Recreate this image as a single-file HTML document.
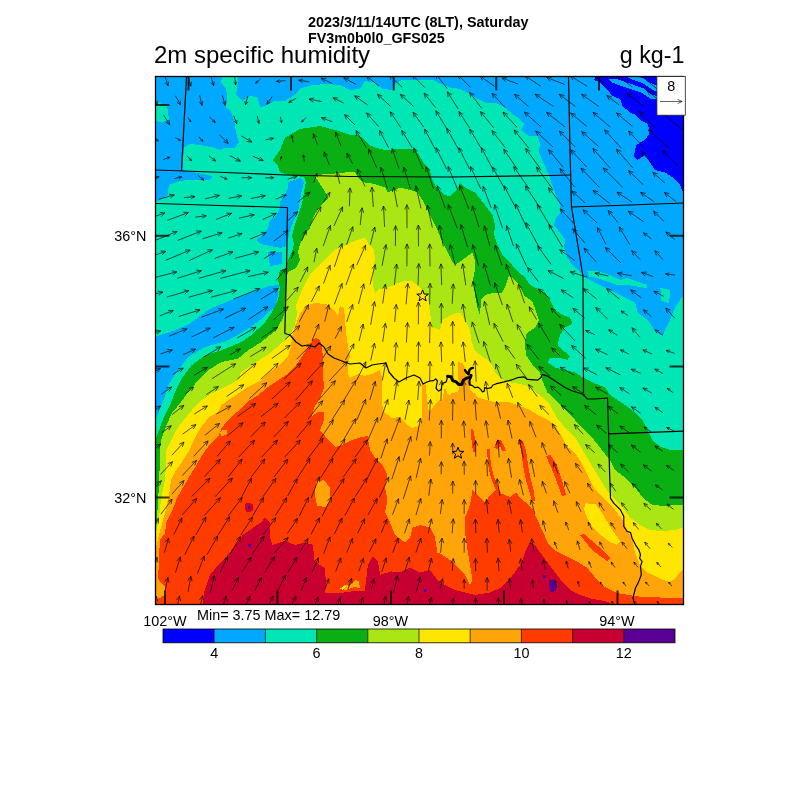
<!DOCTYPE html>
<html><head><meta charset="utf-8"><title>2m specific humidity</title>
<style>
html,body{margin:0;padding:0;background:#fff;}
body{width:800px;height:800px;position:relative;overflow:hidden;font-family:"Liberation Sans",sans-serif;color:#000;}
</style></head><body>
<svg width="800" height="800" viewBox="0 0 800 800" style="position:absolute;left:0;top:0">
<defs><clipPath id="mc"><rect x="155.5" y="76.5" width="528.0" height="528.0"/></clipPath></defs>
<g clip-path="url(#mc)" shape-rendering="crispEdges">
<rect x="155.5" y="76.5" width="528.0" height="528.0" fill="#00e6b4"/>
<path d="M155.0,76.0L222.5,76.0L221.0,82.5L226.0,89.0L227.5,97.5L226.0,107.5L231.0,111.0L234.0,120.0L236.0,132.5L239.0,142.5L235.0,147.5L225.0,147.5L220.0,150.0L212.5,147.5L200.0,145.0L190.0,144.0L184.0,147.5L182.5,170.0L212.5,176.0L210.0,180.0L187.5,180.0L180.0,181.0L169.0,185.0L167.5,195.0L160.0,200.0L155.0,202.5Z" fill="#00a8ff" />
<path d="M237.5,76.0L237.5,85.0L236.0,95.0L242.5,101.0L250.0,96.0L257.5,97.5L260.0,107.5L267.5,105.0L275.0,101.0L285.0,101.0L295.0,95.0L300.0,89.0L310.0,85.5L325.0,84.0L340.0,85.0L350.0,90.0L360.0,89.0L365.0,81.0L375.0,82.5L382.5,89.0L392.5,90.0L396.0,82.5L402.5,80.0L420.0,80.0L432.5,80.0L450.0,87.5L460.0,89.0L467.5,92.5L475.0,97.5L485.0,102.5L495.0,102.5L505.0,107.5L512.5,114.0L520.0,119.0L524.0,124.0L521.0,130.0L528.0,135.5L537.5,136.5L540.5,144.0L538.5,151.0L543.0,162.0L549.0,175.0L554.0,190.0L560.0,205.0L561.0,212.5L556.0,217.5L554.0,225.0L560.0,232.5L565.0,240.0L564.0,247.5L567.5,257.5L572.0,265.0L580.0,271.0L587.5,279.0L605.0,287.5L620.0,295.0L635.0,302.5L637.5,312.5L647.5,320.0L655.0,331.0L662.5,336.0L665.0,330.0L670.0,320.0L675.0,307.5L680.0,300.0L684.0,295.0L684.0,76.0Z" fill="#00a8ff" />
<path d="M288.0,182.0L300.0,178.0L304.0,182.0L302.0,190.0L300.0,200.0L298.0,212.0L294.0,220.0L290.0,230.0L288.0,240.0L286.0,246.0L280.0,248.0L270.0,246.0L260.0,244.0L256.0,240.0L262.0,236.0L268.0,228.0L270.0,220.0L276.0,216.0L280.0,208.0L280.0,202.0L284.0,196.0L288.0,188.0Z" fill="#00a8ff" />
<path d="M268.0,252.0L282.0,252.0L282.0,264.0L270.0,266.0Z" fill="#00a8ff" />
<path d="M279.0,285.0L270.0,286.0L260.0,289.0L245.0,295.0L225.0,302.5L210.0,309.0L200.0,316.0L187.5,325.0L172.5,331.0L160.0,335.0L155.0,337.5L155.0,420.0L158.3,413.5L163.3,400.2L168.3,385.2L176.6,372.0L188.3,357.0L204.9,347.0L226.5,341.0L237.5,335.0L250.0,327.5L260.0,320.0L267.5,312.5L275.0,307.5L277.5,297.5Z" fill="#00a8ff" />
<path d="M155.0,102.0L167.0,105.0L169.0,120.0L160.0,122.5L155.0,120.0Z" fill="#00e6b4" />
<path d="M587.2,271.5L597.2,270.7L608.9,274.8L620.5,279.8L627.2,278.1L637.1,281.5L647.1,284.8L647.1,288.1L637.1,286.5L627.2,284.8L617.2,284.8L607.2,281.5L597.2,278.1L588.9,276.5Z" fill="#00e6b4" />
<path d="M660.4,288.0L670.4,290.0L669.0,303.0L661.0,301.0Z" fill="#00e6b4" />
<path d="M594.0,80.0L600.0,82.5L607.5,90.0L612.5,96.0L620.0,99.0L622.5,106.0L630.0,112.5L636.0,115.0L640.0,120.0L647.5,124.0L650.0,132.5L645.0,140.0L636.0,145.0L634.0,156.0L637.5,160.0L645.0,155.0L650.0,162.5L655.0,170.0L665.0,172.5L672.5,177.5L680.0,185.0L684.0,195.0L684.0,76.0L596.0,76.0Z" fill="#0000ff" />
<path d="M626.0,76.5L634.0,76.5L640.0,77.3L644.5,78.8L649.8,82.5L656.5,85.5L656.5,91.5L652.8,90.0L647.5,86.5L643.0,83.5L638.0,81.5L632.0,79.5Z" fill="#00a8ff" />
<path d="M608.0,79.0L618.0,79.5L626.0,82.0L634.0,85.0L640.0,87.2L643.8,88.5L648.2,92.2L652.8,94.9L656.5,96.0L656.5,99.5L650.5,98.5L646.0,95.8L642.2,93.0L636.0,91.0L628.0,88.0L620.0,85.5L612.0,82.5Z" fill="#00a8ff" />
<path d="M155.0,441.8L158.3,431.8L163.3,418.5L170.0,405.2L175.0,391.9L181.6,378.6L191.6,365.3L204.9,355.3L221.5,350.3L241.5,342.0L250.0,336.0L258.0,329.0L266.0,321.0L272.0,312.0L278.0,300.0L280.0,288.0L278.0,280.0L280.0,270.0L286.0,268.0L288.0,260.0L292.0,252.0L294.0,244.0L292.0,236.0L294.0,228.0L298.0,216.0L302.0,204.0L304.0,192.0L306.0,182.0L304.0,177.0L288.0,175.0L280.0,172.0L278.0,166.0L273.0,160.0L280.0,150.0L285.0,137.5L300.0,129.0L320.0,126.0L335.0,130.0L350.0,135.0L357.5,135.0L364.0,139.0L369.0,145.0L375.0,147.5L385.0,150.0L400.0,149.0L415.0,149.0L419.0,155.0L425.0,165.0L430.0,169.0L431.0,177.5L435.0,185.0L444.0,195.0L450.0,196.0L454.0,192.5L457.5,189.0L460.0,182.5L465.0,187.5L475.0,192.5L485.0,205.0L492.5,215.0L495.0,225.0L494.0,235.0L497.5,245.0L502.5,255.0L510.0,262.5L516.0,270.0L525.0,277.5L530.0,285.0L537.5,289.0L545.0,292.5L550.0,300.0L555.0,310.0L562.5,315.0L570.0,317.5L572.5,324.0L565.0,327.5L560.0,335.0L557.5,345.0L562.5,350.0L570.0,356.0L567.5,360.0L557.5,357.5L550.0,357.5L547.5,362.5L555.0,367.5L565.0,370.0L575.0,372.5L582.5,377.5L592.5,382.5L605.0,387.5L610.0,395.0L617.5,400.0L625.0,405.0L635.0,412.5L642.5,420.0L648.0,431.0L653.0,441.0L661.0,447.0L671.0,450.0L684.0,450.0L685.0,606.0L154.0,606.0Z" fill="#0aaf14" />
<path d="M155.0,528.0L157.0,520.0L157.5,510.0L158.2,498.0L159.4,480.0L159.8,450.0L161.7,438.4L166.6,425.1L171.6,413.5L180.0,403.5L188.3,391.9L198.2,380.2L208.2,370.3L221.5,362.0L238.1,358.6L248.1,350.3L261.4,342.0L270.0,335.0L278.0,327.0L283.0,318.0L285.5,310.0L286.0,295.0L286.0,280.0L288.0,272.0L296.0,268.0L300.0,260.0L298.0,252.0L300.0,244.0L304.0,236.0L310.0,228.0L314.0,216.0L320.0,206.0L328.0,198.0L324.0,190.0L320.0,184.0L314.0,175.0L330.0,174.0L350.0,172.0L355.0,172.5L360.0,180.0L365.0,182.5L375.0,184.0L385.0,187.5L387.5,192.5L400.0,187.5L410.0,190.0L417.5,192.5L422.5,200.0L427.5,210.0L432.5,220.0L437.5,230.0L442.5,242.5L447.5,252.5L452.5,262.5L455.0,265.0L462.5,260.0L472.5,252.5L475.0,260.0L475.0,270.0L473.0,280.0L475.0,295.0L477.5,307.5L480.0,316.0L481.0,300.0L485.0,295.0L492.5,293.0L502.0,293.5L506.0,285.0L509.0,275.5L514.0,279.0L518.5,284.0L524.0,295.5L532.0,301.0L536.0,311.0L539.0,320.0L535.0,327.5L526.0,334.0L525.0,344.0L526.0,355.0L532.5,365.0L540.0,373.0L543.0,382.0L547.5,392.5L555.0,400.0L565.0,410.0L575.0,420.0L583.5,429.0L592.5,438.0L601.0,449.0L610.0,460.0L615.0,470.0L625.0,477.5L635.0,487.5L642.5,497.5L652.5,505.0L665.0,506.0L675.0,505.0L684.0,505.0L685.0,606.0L154.0,606.0Z" fill="#aae614" />
<path d="M155.0,536.0L158.5,522.0L159.8,510.0L161.2,498.0L165.0,480.0L166.0,465.0L166.5,450.0L169.0,445.0L173.3,436.8L178.3,426.8L184.9,418.5L193.2,408.5L201.5,400.2L211.5,393.5L221.5,388.6L228.2,385.2L238.1,380.2L241.5,372.0L251.4,365.3L261.4,358.6L271.4,352.0L283.0,342.0L290.0,335.0L295.0,325.0L297.0,314.0L296.0,306.0L298.0,300.0L302.0,290.0L306.0,282.0L312.0,272.0L320.0,264.0L328.0,256.0L334.0,250.0L344.0,246.0L350.0,243.0L357.5,240.0L365.0,237.5L369.0,245.0L374.0,250.0L375.0,260.0L373.0,270.0L373.0,285.0L375.0,293.0L380.0,289.0L392.0,286.0L404.0,280.5L412.0,281.0L420.0,287.0L428.0,297.0L430.0,312.5L432.5,327.5L440.0,330.0L442.5,320.0L452.5,314.0L460.0,312.5L465.0,320.0L470.0,330.0L471.7,342.0L475.0,351.0L481.0,355.5L488.0,360.5L492.5,366.0L496.0,374.0L502.0,380.0L510.0,382.5L520.0,384.0L528.0,386.0L537.5,393.5L544.0,398.5L550.0,405.0L557.5,418.5L565.0,427.5L575.0,437.5L582.5,450.0L590.0,462.5L597.5,475.0L605.0,487.5L612.5,497.5L622.5,507.5L630.0,517.5L640.0,525.0L650.0,530.0L662.5,531.0L675.0,530.0L684.0,527.5L685.0,606.0L154.0,606.0Z" fill="#ffe600" />
<path d="M155.0,550.0L157.5,541.0L160.0,531.0L165.8,510.0L168.8,498.0L171.0,480.0L175.0,472.0L180.0,465.0L185.0,457.0L189.8,450.0L192.0,444.0L196.3,435.0L203.2,424.0L209.9,416.8L218.2,411.8L221.5,405.2L228.2,400.2L238.1,393.5L248.1,386.9L261.4,380.2L271.4,370.3L281.4,363.6L288.0,357.0L291.0,346.0L293.0,332.0L296.0,324.0L300.0,314.0L306.0,306.0L314.0,303.0L326.0,304.0L334.0,310.0L338.0,316.0L340.0,306.0L344.0,308.0L345.0,320.0L346.0,332.0L348.0,346.0L350.0,356.0L348.0,364.0L348.0,374.0L350.0,378.0L358.0,374.0L364.0,376.0L372.0,374.0L380.0,370.0L382.0,378.0L382.0,392.0L382.0,404.0L384.0,412.0L392.0,418.0L400.0,417.0L406.0,424.0L412.0,428.0L419.0,426.0L421.5,418.0L421.5,392.0L421.5,382.0L425.5,385.0L427.0,398.0L428.5,410.0L430.0,411.2L435.2,404.2L438.7,400.7L443.1,399.0L444.0,388.5L445.7,388.5L447.5,393.7L450.1,395.5L451.9,392.9L458.0,392.0L458.9,388.5L458.5,380.0L458.0,370.0L458.0,362.3L462.4,362.7L464.5,367.0L466.0,375.0L468.5,381.0L469.0,385.9L471.1,391.1L475.5,393.7L477.2,397.2L482.5,399.0L489.5,400.7L494.7,402.5L500.0,401.6L510.0,402.5L520.0,406.0L530.0,410.0L540.0,416.0L548.0,420.0L554.0,424.5L560.0,433.5L566.0,445.5L575.0,453.0L581.0,462.0L585.5,471.0L590.0,480.0L595.0,490.0L605.0,500.0L615.0,510.0L622.5,520.0L627.5,530.0L632.5,540.0L635.0,552.5L640.0,565.0L646.0,572.0L655.0,576.0L663.0,580.0L669.0,582.0L675.0,579.0L679.0,573.0L684.0,568.0L685.0,606.0L154.0,606.0Z" fill="#ffa50a" />
<path d="M585.6,503.3L595.6,504.1L602.2,513.2L608.9,524.9L615.5,534.8L620.5,541.5L617.2,544.8L608.9,541.5L600.5,534.8L592.2,526.5L587.3,518.2L583.9,509.9Z" fill="#ffe600" />
<path d="M154.0,606.0L156.0,599.0L160.5,597.5L165.8,594.5L165.0,587.0L159.0,581.0L157.5,575.0L159.0,567.5L159.0,552.5L160.5,539.0L165.0,533.0L166.5,522.5L172.5,510.0L177.0,498.0L181.5,490.0L187.5,480.0L192.0,472.0L196.5,465.0L201.0,457.0L205.5,450.0L211.5,443.0L218.2,436.8L221.5,428.4L226.5,421.8L233.1,415.1L241.5,408.5L249.8,400.2L258.1,395.2L268.1,386.9L278.0,380.2L288.0,373.6L297.0,364.0L305.0,352.0L312.5,340.0L316.0,338.0L320.0,340.0L322.0,346.0L323.0,360.0L323.0,374.0L324.0,388.0L320.0,398.0L314.0,408.0L312.0,416.0L318.0,412.0L324.0,412.0L324.0,420.0L320.0,430.0L325.0,436.0L330.0,442.0L335.0,447.0L342.5,445.0L350.0,441.0L360.0,437.5L367.5,436.0L370.0,450.0L375.0,457.5L382.5,465.0L387.5,475.0L385.0,487.5L387.5,500.0L385.0,512.5L390.0,522.5L395.0,535.0L405.0,542.5L410.0,537.5L412.5,527.5L420.0,525.0L430.0,527.5L435.0,537.5L437.5,552.5L442.5,555.0L450.0,560.0L457.5,567.5L465.0,575.0L470.0,585.0L472.5,580.0L470.0,565.0L467.5,550.0L465.0,532.5L465.0,517.5L470.0,505.0L472.5,490.0L480.0,497.5L485.0,502.5L490.0,495.0L495.0,490.0L500.0,493.0L510.0,497.0L516.0,492.5L520.0,497.5L525.0,502.0L532.5,509.0L542.0,530.0L548.0,543.0L554.0,549.8L564.0,554.8L577.3,561.5L587.3,568.0L595.6,578.0L603.9,586.4L617.2,593.0L637.0,596.4L660.0,597.5L684.0,598.0L685.0,606.0L154.0,606.0Z" fill="#ff3c00" />
<path d="M316.0,482.0L324.0,480.0L330.0,488.0L330.0,500.0L326.0,507.0L317.0,506.0L315.0,495.0Z" fill="#ffa50a" />
<path d="M219.5,432.5L223.5,429.5L227.0,430.0L226.5,434.0L222.0,436.5Z" fill="#ffa50a" />
<path d="M487.0,449.0L489.5,449.0L491.0,465.0L494.0,477.0L498.5,487.0L501.5,495.0L498.5,495.0L495.0,488.0L491.0,478.0L488.0,465.0Z" fill="#ff3c00" />
<path d="M518.0,439.5L522.0,439.5L526.0,450.0L528.0,465.0L531.0,480.0L534.0,492.0L535.0,501.0L532.0,501.0L529.5,492.0L526.0,480.0L523.0,465.0L521.0,450.0Z" fill="#ff3c00" />
<path d="M546.0,456.0L550.5,455.0L557.0,465.0L562.0,480.0L566.0,495.0L562.0,496.0L556.5,481.0L551.0,467.0Z" fill="#ff3c00" />
<path d="M494.0,448.0L497.0,440.0L501.0,439.5L504.0,446.0L506.0,451.5L502.0,451.0L500.0,446.0L498.0,449.0Z" fill="#ff3c00" />
<path d="M470.5,429.0L473.0,429.0L475.5,440.0L476.0,451.5L473.0,451.5L471.5,440.0Z" fill="#ff3c00" />
<path d="M580.0,535.0L584.0,534.0L598.0,546.0L611.0,558.0L607.0,561.0L592.0,550.0Z" fill="#ff3c00" />
<path d="M203.2,606.0L204.0,593.0L210.0,575.0L216.0,567.5L225.0,558.5L231.0,551.0L237.0,543.5L243.0,534.5L252.0,528.5L261.0,522.5L265.0,517.5L270.0,522.5L270.0,537.5L272.5,545.0L285.0,541.0L295.0,545.0L305.0,542.5L312.9,544.8L314.6,561.5L324.6,568.1L326.2,583.1L324.6,593.0L337.9,593.4L357.8,590.5L364.5,591.4L366.1,581.4L367.8,564.8L372.8,556.5L377.8,561.5L380.3,574.8L391.1,571.4L400.0,572.5L410.0,567.5L420.0,572.5L430.0,570.0L437.5,580.0L445.0,585.0L455.0,590.0L465.0,592.5L475.0,595.0L490.0,592.5L500.0,588.0L509.0,580.0L515.0,572.0L522.0,562.0L526.0,550.0L530.0,542.5L535.0,545.0L540.0,552.5L547.5,562.5L555.0,572.5L562.5,582.5L570.0,590.0L580.0,595.0L592.5,599.0L605.0,601.0L617.5,606.0Z" fill="#c80032" />
<path d="M244.5,504.0L249.0,502.5L253.5,505.0L252.5,511.0L247.0,512.5L244.5,509.0Z" fill="#c80032" />
<path d="M340.0,589.0L345.0,584.5L349.0,586.0L355.0,580.0L359.0,581.0L360.0,588.0L354.0,587.0L347.0,590.0Z" fill="#ffa50a" />
<path d="M340.5,588.5L344.5,585.5L346.0,587.0L342.0,590.0Z" fill="#ffe600" />
<path d="M549.0,581.0L554.0,579.0L557.0,585.0L556.0,591.0L551.0,592.0L549.0,587.0Z" fill="#5a0096" />
<path d="M247.5,506.0L250.0,506.0L250.0,509.0L247.5,509.0Z" fill="#5a0096" />
<path d="M247.5,543.5L250.5,543.5L250.5,546.5L247.5,546.5Z" fill="#5a0096" />
<path d="M424.0,589.0L427.0,589.0L427.0,592.0L424.0,592.0Z" fill="#5a0096" />
<path d="M543.0,575.0L546.0,575.0L546.0,578.0L543.0,578.0Z" fill="#5a0096" />
</g>
<g clip-path="url(#mc)">
<path d="M186.5,76.5L184.0,124.0L181.5,171.0" fill="none" stroke="#000" stroke-width="1.2" stroke-linejoin="round" />
<path d="M155.5,170.0L225.0,172.5L286.0,175.0L350.0,176.5L450.0,177.0L550.0,175.5L570.0,175.0" fill="none" stroke="#000" stroke-width="1.2" stroke-linejoin="round" />
<path d="M568.5,76.5L570.0,150.0L571.5,207.0L577.0,240.0L583.0,276.5L583.3,333.0L583.5,393.0" fill="none" stroke="#000" stroke-width="1.2" stroke-linejoin="round" />
<path d="M571.5,207.0L630.0,205.0L683.5,203.0" fill="none" stroke="#000" stroke-width="1.2" stroke-linejoin="round" />
<path d="M155.5,203.5L220.0,205.5L287.5,207.5" fill="none" stroke="#000" stroke-width="1.2" stroke-linejoin="round" />
<path d="M287.5,207.5L286.5,270.0L284.8,333.5" fill="none" stroke="#000" stroke-width="1.2" stroke-linejoin="round" />
<path d="M284.8,333.5L290.0,335.0L296.0,342.0L302.0,346.0L308.0,345.0L315.0,347.0L319.0,343.0L324.0,347.0L328.0,354.0L334.0,358.0L342.0,361.0L350.0,364.0L360.0,363.0L366.0,368.0L372.0,365.0L378.0,364.0L386.0,363.0L389.0,372.0L394.0,378.0L399.0,382.0L406.0,378.0L414.0,375.0L420.0,378.0L423.0,384.0L427.0,382.0L430.0,381.0L433.5,380.6L435.7,378.9L437.4,381.0L436.6,385.0L436.1,388.5L438.7,391.1L441.4,389.4L441.8,385.0L443.1,383.2L446.2,381.9L447.5,377.1" fill="none" stroke="#000" stroke-width="1.2" stroke-linejoin="round" />
<path d="M469.8,384.6L472.9,385.9L474.6,387.6L478.1,387.2L480.7,389.4L482.5,392.0L484.2,391.1L484.7,387.6L487.7,388.5L491.2,387.6L493.0,385.0L496.5,383.7L500.0,382.8L504.1,381.9L510.8,380.2L517.4,377.7L524.1,376.9L527.4,379.4L537.4,380.2L540.7,377.7L542.4,374.4L547.4,376.1L552.0,379.0L557.5,382.5L565.0,387.5L572.5,391.0L582.5,394.0L587.5,399.0L595.0,399.0L607.5,398.0" fill="none" stroke="#000" stroke-width="1.2" stroke-linejoin="round" />
<path d="M607.5,398.0L608.5,430.0L609.5,470.0L610.5,498.3L613.9,503.3L620.5,509.9L623.8,516.6L623.8,526.5L627.2,531.5L630.5,532.4L632.1,538.2L635.5,544.8L638.8,549.8L640.5,554.8L639.6,558.1L642.1,561.5L640.5,566.4L641.3,574.8L638.8,581.4L635.5,588.0L633.8,594.7L633.0,598.0L634.6,604.5" fill="none" stroke="#000" stroke-width="1.2" stroke-linejoin="round" />
<path d="M608.8,433.8L683.5,431.2" fill="none" stroke="#000" stroke-width="1.2" stroke-linejoin="round" />
<path d="M447.5,376.2L451.0,376.7L452.7,380.6L456.2,381.9L458.9,384.6L461.5,384.6L463.2,380.2L466.7,378.0L470.2,377.6L471.1,375.4" fill="none" stroke="#000" stroke-width="3.0" stroke-linejoin="round" stroke-linecap="round"/>
<path d="M465.0,370.1L466.7,372.7L468.5,374.5L469.4,370.1L471.1,368.4L472.9,367.9" fill="none" stroke="#000" stroke-width="2.4" stroke-linejoin="round" stroke-linecap="round"/>
<path d="M470.2,377.6L469.4,381.5L469.8,384.6" fill="none" stroke="#000" stroke-width="2.2" stroke-linejoin="round" stroke-linecap="round"/>
<path d="M422.6,289.9L424.1,294.0L428.4,294.1L425.0,296.8L426.2,300.9L422.6,298.5L419.0,300.9L420.2,296.8L416.8,294.1L421.1,294.0Z" fill="none" stroke="#000" stroke-width="1"/>
<path d="M458.0,447.2L459.5,451.3L463.8,451.4L460.4,454.1L461.6,458.2L458.0,455.8L454.4,458.2L455.6,454.1L452.2,451.4L456.5,451.3Z" fill="none" stroke="#000" stroke-width="1"/>
<path d="M164.9,76.0L168.1,86.0M165.2,82.7L168.1,86.0L168.6,81.6M188.0,75.8L190.8,86.2M187.9,82.7L190.8,86.2L191.5,81.7M211.0,76.3L213.6,85.7M211.0,82.5L213.6,85.7L214.2,81.6M234.7,77.0L235.7,85.0M234.0,82.1L235.7,85.0L236.7,81.7M260.6,78.8L255.6,83.2M256.8,80.6L255.6,83.2L258.3,82.4M285.6,80.6L276.4,81.4M279.8,79.5L276.4,81.4L280.1,82.7M309.2,81.8L298.6,80.2M303.0,79.0L298.6,80.2L302.4,82.6M332.4,83.6L321.2,78.4M326.4,78.5L321.2,78.4L324.6,82.3M355.6,84.1L343.8,77.9M349.0,78.2L343.8,77.9L347.0,82.0M379.0,86.1L366.2,75.9M371.3,77.2L366.2,75.9L368.6,80.5M402.0,87.1L389.0,74.9M394.0,76.7L389.0,74.9L391.1,79.7M424.6,87.4L412.2,74.6M417.0,76.5L412.2,74.6L414.0,79.4M447.1,88.5L435.5,73.5M440.0,75.9L435.5,73.5L436.7,78.5M470.7,87.5L457.7,74.5M462.6,76.3L457.7,74.5L459.6,79.3M494.3,86.2L479.9,75.8M485.0,76.8L479.9,75.8L482.5,80.3M517.9,84.0L502.1,78.0M507.3,77.7L502.1,78.0L505.8,81.7M540.7,86.2L525.1,75.8M530.3,76.7L525.1,75.8L527.9,80.2M565.0,84.5L546.6,77.5M551.8,77.2L546.6,77.5L550.3,81.2M587.2,86.3L570.2,75.7M575.3,76.4L570.2,75.7L573.1,80.0M609.2,86.7L594.0,75.3M599.1,76.5L594.0,75.3L596.6,79.9M632.2,86.9L616.8,75.1M621.9,76.3L616.8,75.1L619.3,79.6M656.8,88.7L638.0,73.3M643.0,74.7L638.0,73.3L640.3,77.9M681.8,90.6L658.8,71.4M663.8,72.9L658.8,71.4L661.1,76.1M152.7,95.6L157.4,105.1M154.0,102.3L157.4,105.1L157.2,100.6M175.4,95.8L180.5,104.9M177.0,102.3L180.5,104.9L180.1,100.6M199.7,95.2L202.0,105.5M199.4,101.9L202.0,105.5L202.9,101.2M222.4,95.4L225.1,105.3M222.4,102.0L225.1,105.3L225.8,101.0M247.8,95.8L245.5,104.9M244.8,101.0L245.5,104.9L248.0,101.8M272.2,96.4L266.9,104.3M267.6,100.4L266.9,104.3L270.3,102.2M296.2,98.2L288.7,102.5M290.9,99.6L288.7,102.5L292.3,102.1M321.7,101.5L309.0,99.2M314.0,98.0L309.0,99.2L313.3,102.1M343.6,103.0L332.9,97.7M337.9,97.9L332.9,97.7L336.1,101.6M367.7,105.0L354.6,95.7M359.7,96.7L354.6,95.7L357.2,100.2M390.6,106.4L377.5,94.3M382.4,96.0L377.5,94.3L379.6,99.1M413.5,106.4L400.4,94.3M405.3,96.0L400.4,94.3L402.5,99.1M435.6,107.6L424.1,93.1M428.7,95.5L424.1,93.1L425.4,98.2M458.2,108.9L447.3,91.8M451.7,94.7L447.3,91.8L448.1,97.0M481.7,108.3L469.6,92.4M474.2,94.9L469.6,92.4L470.8,97.4M505.2,107.5L491.9,93.2M496.7,95.2L491.9,93.2L493.6,98.1M528.4,106.4L514.5,94.3M519.5,95.8L514.5,94.3L516.7,99.0M553.6,106.5L535.1,94.2M540.2,95.1L535.1,94.2L537.9,98.6M575.3,106.4L559.2,94.3M564.3,95.5L559.2,94.3L561.7,98.9M598.7,106.4L581.6,94.3M586.7,95.3L581.6,94.3L584.2,98.8M619.3,105.2L606.8,95.5M611.9,96.8L606.8,95.5L609.3,100.1M645.0,107.5L626.9,93.2M631.9,94.5L626.9,93.2L629.3,97.8M670.5,110.1L647.2,90.6M652.2,92.1L647.2,90.6L649.5,95.3M163.3,114.7L169.7,124.7M165.5,122.0L169.7,124.7L169.0,119.8M188.0,117.6L190.8,121.8M189.0,120.7L190.8,121.8L190.5,119.7M209.3,116.9L215.3,122.5M212.0,121.4L215.3,122.5L213.9,119.3M233.7,115.7L236.7,123.7M234.2,121.1L236.7,123.7L236.9,120.1M257.2,115.9L259.0,123.5M257.0,120.9L259.0,123.5L259.6,120.3M280.4,116.7L281.6,122.7M280.1,120.6L281.6,122.7L282.2,120.2M306.2,117.6L301.6,121.8M302.7,119.4L301.6,121.8L304.1,121.0M332.2,121.7L321.4,117.7M326.2,117.4L321.4,117.7L324.9,121.1M354.9,124.8L344.5,114.6M349.4,116.4L344.5,114.6L346.4,119.4M378.5,126.5L366.7,112.9M371.4,115.1L366.7,112.9L368.2,117.9M400.8,127.7L390.2,111.7M394.6,114.5L390.2,111.7L391.1,116.9M423.7,127.1L413.1,112.3M417.6,114.9L413.1,112.3L414.1,117.4M446.8,128.7L435.8,110.7M440.1,113.7L435.8,110.7L436.5,115.9M469.5,127.8L458.9,111.6M463.2,114.4L458.9,111.6L459.7,116.7M493.7,127.8L480.5,111.6M485.1,113.9L480.5,111.6L481.8,116.6M517.0,127.3L503.0,112.1M507.8,114.2L503.0,112.1L504.7,117.0M541.5,127.3L524.3,112.1M529.3,113.6L524.3,112.1L526.5,116.8M565.0,127.0L546.6,112.4M551.6,113.7L546.6,112.4L549.0,117.0M586.7,126.4L570.7,113.0M575.7,114.4L570.7,113.0L573.0,117.7M610.2,127.0L593.0,112.4M598.0,113.9L593.0,112.4L595.2,117.1M632.4,126.4L616.6,113.0M621.6,114.5L616.6,113.0L618.8,117.7M655.6,127.8L639.2,111.6M644.0,113.4L639.2,111.6L641.1,116.5M683.8,130.8L656.8,108.6M661.8,110.0L656.8,108.6L659.1,113.2M151.7,137.2L158.4,140.9M155.2,140.6L158.4,140.9L156.5,138.4M175.3,137.6L180.6,140.5M178.1,140.3L180.6,140.5L179.0,138.5M198.8,136.8L202.9,141.3M200.5,140.3L202.9,141.3L202.1,138.9M219.2,134.6L228.3,143.5M223.4,141.7L228.3,143.5L226.4,138.7M241.4,136.0L251.9,142.1M246.8,141.6L251.9,142.1L248.9,138.0M265.6,139.8L273.5,138.3M270.7,140.2L273.5,138.3L270.2,137.5M293.1,142.6L291.8,135.5M293.5,138.0L291.8,135.5L291.1,138.4M317.3,144.4L313.4,133.7M316.7,137.1L313.4,133.7L313.1,138.5M341.0,146.1L335.5,132.0M339.2,135.7L335.5,132.0L335.3,137.2M366.3,147.5L356.0,130.6M360.3,133.6L356.0,130.6L356.7,135.8M388.6,147.7L379.5,130.4M383.5,133.6L379.5,130.4L379.8,135.6M412.2,147.7L401.7,130.4M406.0,133.4L401.7,130.4L402.4,135.6M435.1,149.0L424.6,129.1M428.7,132.3L424.6,129.1L424.9,134.3M458.7,149.6L446.8,128.5M451.0,131.6L446.8,128.5L447.3,133.7M481.6,149.0L469.7,129.1M474.0,132.1L469.7,129.1L470.3,134.3M505.2,147.5L491.9,130.6M496.5,133.0L491.9,130.6L493.2,135.6M528.8,148.2L514.1,129.9M518.8,132.3L514.1,129.9L515.5,134.9M552.9,147.0L535.8,131.1M540.7,132.8L535.8,131.1L537.8,135.8M575.2,147.0L559.3,131.1M564.1,132.9L559.3,131.1L561.1,135.9M598.7,146.5L581.6,131.6M586.6,133.1L581.6,131.6L583.8,136.3M621.6,148.3L604.5,129.8M609.2,131.9L604.5,129.8L606.1,134.7M643.3,147.1L628.6,131.0M633.3,133.1L628.6,131.0L630.2,135.9M669.4,148.1L648.3,130.0M653.3,131.5L648.3,130.0L650.5,134.7M163.2,159.6L169.8,157.2M167.7,159.3L169.8,157.2L166.9,157.0M187.3,155.9L191.5,160.9M189.0,159.7L191.5,160.9L190.8,158.3M209.0,155.8L215.6,161.0M212.2,160.1L215.6,161.0L213.9,157.9M230.0,155.6L240.4,161.2M235.5,160.8L240.4,161.2L237.4,157.3M253.0,156.3L263.2,160.5M258.6,160.6L263.2,160.5L260.0,157.1M280.5,160.3L281.5,156.5M281.8,158.4L281.5,156.5L280.3,158.0M304.4,161.9L303.4,154.9M305.0,157.4L303.4,154.9L302.6,157.8M329.4,164.9L324.2,151.9M327.9,155.5L324.2,151.9L324.0,157.1M352.6,163.7L346.8,153.1M350.8,156.2L346.8,153.1L347.2,158.2M376.6,167.7L368.6,149.1M372.4,152.7L368.6,149.1L368.5,154.3M398.9,168.4L392.1,148.4M395.7,152.2L392.1,148.4L391.7,153.6M423.0,169.0L413.8,147.8M417.6,151.3L413.8,147.8L413.7,153.0M446.6,169.0L436.0,147.8M440.0,151.1L436.0,147.8L436.2,153.0M469.5,169.0L458.9,147.8M462.9,151.1L458.9,147.8L459.1,153.0M492.7,169.0L481.5,147.8M485.6,151.0L481.5,147.8L481.8,153.0M516.3,167.7L503.7,149.1M508.1,151.8L503.7,149.1L504.6,154.2M540.1,168.3L525.7,148.5M530.2,151.1L525.7,148.5L526.7,153.5M563.1,167.1L548.5,149.7M553.2,152.0L548.5,149.7L549.9,154.7M586.7,167.0L570.7,149.8M575.5,151.8L570.7,149.8L572.4,154.7M610.3,168.3L592.9,148.5M597.7,150.7L592.9,148.5L594.5,153.5M632.6,167.7L616.4,149.1M621.2,151.3L616.4,149.1L618.0,154.1M653.5,165.2L641.3,151.6M646.0,153.7L641.3,151.6L642.9,156.5M678.2,166.3L662.4,150.5M667.2,152.4L662.4,150.5L664.2,155.4M151.0,178.8L159.1,176.7M156.3,178.9L159.1,176.7L155.6,176.1M174.1,178.7L181.8,176.8M179.2,178.9L181.8,176.8L178.5,176.2M197.9,175.2L203.8,180.3M200.7,179.3L203.8,180.3L202.4,177.4M220.3,176.4L227.2,179.1M224.1,179.2L227.2,179.1L225.0,176.9M241.6,177.7L251.7,177.8M247.8,179.5L251.7,177.8L247.8,176.0M265.2,177.9L273.9,177.6M270.6,179.2L273.9,177.6L270.5,176.3M287.7,179.2L297.2,176.3M294.0,179.0L297.2,176.3L293.1,175.8M313.7,182.5L317.0,173.0M317.4,177.2L317.0,173.0L314.1,176.1M339.8,183.8L336.7,171.7M339.9,175.8L336.7,171.7L335.8,176.8M365.0,186.5L357.3,169.0M361.2,172.5L357.3,169.0L357.3,174.2M387.3,188.2L380.8,167.3M384.2,171.1L380.8,167.3L380.2,172.4M410.3,188.4L403.6,167.1M407.1,171.0L403.6,167.1L403.0,172.3M433.5,188.7L426.2,166.8M429.7,170.6L426.2,166.8L425.7,172.0M457.4,189.0L448.1,166.5M451.9,170.1L448.1,166.5L448.0,171.7M480.9,189.0L470.4,166.5M474.3,169.9L470.4,166.5L470.5,171.7M504.5,188.4L492.6,167.1M496.8,170.2L492.6,167.1L493.1,172.3M529.2,188.9L513.7,166.6M518.1,169.3L513.7,166.6L514.7,171.7M552.1,188.4L536.6,167.1M541.1,169.7L536.6,167.1L537.7,172.2M574.5,186.9L560.0,168.6M564.6,171.0L560.0,168.6L561.3,173.6M599.3,187.4L581.0,168.1M585.8,170.1L581.0,168.1L582.8,173.0M622.9,187.6L603.2,167.9M608.1,169.8L603.2,167.9L605.1,172.8M643.3,184.9L628.6,170.6M633.5,172.4L628.6,170.6L630.5,175.4M664.9,183.1L652.8,172.4M657.8,173.9L652.8,172.4L654.9,177.1M158.7,199.3L174.3,194.9M170.3,198.2L174.3,194.9L169.2,194.2M183.9,197.6L194.9,196.6M190.9,198.9L194.9,196.6L190.5,195.1M205.2,198.8L219.4,195.4M215.3,198.6L219.4,195.4L214.3,194.4M228.6,198.4L241.8,195.8M237.5,198.8L241.8,195.8L236.7,194.6M250.9,198.5L265.3,195.7M261.1,198.7L265.3,195.7L260.2,194.5M275.7,199.2L286.3,195.0M283.0,198.4L286.3,195.0L281.5,194.8M297.7,202.1L310.1,192.1M307.7,196.7L310.1,192.1L305.1,193.4M323.6,201.8L330.0,192.4M329.2,197.1L330.0,192.4L325.9,194.9M349.4,206.3L350.0,187.9M351.9,192.7L350.0,187.9L347.7,192.6M373.3,207.0L371.9,187.2M374.3,191.8L371.9,187.2L370.1,192.1M397.4,207.2L393.6,187.0M396.6,191.3L393.6,187.0L392.4,192.1M421.0,208.4L415.8,185.8M418.9,190.0L415.8,185.8L414.8,190.9M445.3,208.4L437.3,185.8M440.9,189.6L437.3,185.8L436.9,191.0M468.8,208.9L459.6,185.3M463.3,188.9L459.6,185.3L459.4,190.5M491.1,207.8L483.1,186.4M486.7,190.1L483.1,186.4L482.8,191.6M515.9,208.3L504.1,185.9M508.2,189.1L504.1,185.9L504.4,191.0M540.4,208.3L525.4,185.9M529.8,188.6L525.4,185.9L526.2,191.0M563.1,206.6L548.5,187.6M553.0,190.1L548.5,187.6L549.7,192.6M585.4,203.2L572.0,191.0M576.9,192.6L572.0,191.0L574.1,195.8M610.1,203.8L593.1,190.4M598.2,191.7L593.1,190.4L595.5,195.0M632.0,202.0L617.0,192.2M622.2,193.0L617.0,192.2L619.8,196.6M654.1,201.8L640.7,192.4M645.8,193.4L640.7,192.4L643.3,196.8M676.3,201.8L664.3,192.4M669.4,193.7L664.3,192.4L666.8,197.0M145.1,220.1L165.0,212.8M161.2,216.5L165.0,212.8L159.8,212.5M167.5,220.3L188.4,212.6M184.7,216.2L188.4,212.6L183.2,212.2M195.4,217.1L206.3,215.8M202.3,218.1L206.3,215.8L201.9,214.4M215.9,219.6L231.6,213.3M228.0,217.0L231.6,213.3L226.4,213.1M239.0,218.2L254.3,214.7M250.2,217.8L254.3,214.7L249.2,213.7M262.8,219.5L276.3,213.4M272.8,217.3L276.3,213.4L271.1,213.4M287.2,221.1L297.7,211.8M295.5,216.6L297.7,211.8L292.8,213.4M309.7,226.1L321.0,206.8M320.4,212.0L321.0,206.8L316.8,209.8M333.9,226.0L342.6,206.9M342.5,212.1L342.6,206.9L338.7,210.4M360.2,225.1L362.1,207.8M363.7,212.8L362.1,207.8L359.5,212.3M384.6,226.9L383.5,206.0M385.9,210.6L383.5,206.0L381.6,210.8M407.0,228.2L406.9,204.7M409.0,209.4L406.9,204.7L404.8,209.4M432.4,227.7L427.3,205.2M430.4,209.4L427.3,205.2L426.3,210.3M457.3,228.3L448.2,204.6M451.9,208.2L448.2,204.6L447.9,209.8M479.0,227.1L472.3,205.8M475.7,209.7L472.3,205.8L471.7,211.0M502.6,228.3L494.5,204.6M498.1,208.5L494.5,204.6L494.1,209.8M527.3,228.9L515.6,204.0M519.5,207.4L515.6,204.0L515.7,209.2M551.5,228.5L537.2,204.4M541.4,207.4L537.2,204.4L537.8,209.6M574.5,224.0L560.0,208.9M564.8,210.9L560.0,208.9L561.8,213.8M597.3,223.1L583.0,209.8M587.9,211.5L583.0,209.8L585.0,214.6M617.9,222.5L608.2,210.4M612.8,212.8L608.2,210.4L609.5,215.4M643.7,221.8L628.2,211.1M633.3,212.1L628.2,211.1L630.9,215.6M664.2,221.6L653.5,211.3M658.4,213.0L653.5,211.3L655.4,216.1M155.8,240.1L177.2,231.5M173.6,235.3L177.2,231.5L172.0,231.3M177.5,240.5L201.3,231.1M197.6,234.8L201.3,231.1L196.1,230.9M202.4,238.8L222.2,232.8M218.2,236.2L222.2,232.8L217.0,232.2M228.3,238.1L242.1,233.5M238.3,237.0L242.1,233.5L236.9,233.0M250.1,239.1L266.1,232.5M262.5,236.3L266.1,232.5L260.9,232.4M273.9,241.0L288.1,230.6M285.5,235.1L288.1,230.6L283.0,231.7M301.6,241.1L306.2,230.5M306.2,235.3L306.2,230.5L302.6,233.8M323.2,246.1L330.4,225.5M330.8,230.7L330.4,225.5L326.8,229.3M346.6,244.9L352.8,226.7M353.2,231.9L352.8,226.7L349.2,230.5M370.4,244.6L374.8,227.0M375.7,232.1L374.8,227.0L371.6,231.1M395.4,245.9L395.6,225.7M397.7,230.5L395.6,225.7L393.4,230.5M418.5,246.4L418.3,225.2M420.5,229.9L418.3,225.2L416.2,229.9M443.3,246.5L439.3,225.1M442.3,229.4L439.3,225.1L438.1,230.2M467.5,247.0L460.9,224.6M464.3,228.5L460.9,224.6L460.2,229.7M489.8,245.8L484.4,225.8M487.7,229.9L484.4,225.8L483.6,231.0M513.4,245.9L506.6,225.7M510.1,229.5L506.6,225.7L506.1,230.9M540.0,248.9L525.8,222.7M530.0,225.9L525.8,222.7L526.2,227.9M562.6,247.0L549.0,224.6M553.2,227.5L549.0,224.6L549.6,229.7M584.7,242.8L572.7,228.8M577.4,231.0L572.7,228.8L574.2,233.8M605.8,244.2L597.4,227.4M601.4,230.7L597.4,227.4L597.6,232.6M629.8,244.8L619.2,226.8M623.4,229.8L619.2,226.8L619.8,232.0M651.4,238.8L643.4,232.8M647.5,233.7L643.4,232.8L645.5,236.5M674.7,239.6L665.9,232.0M670.6,233.4L665.9,232.0L668.0,236.4M144.3,258.9L165.8,251.4M162.0,255.0L165.8,251.4L160.6,251.0M165.7,260.3L190.2,250.0M186.6,253.8L190.2,250.0L185.0,249.9M189.2,260.6L212.5,249.7M209.1,253.6L212.5,249.7L207.3,249.8M214.5,258.5L233.0,251.8M229.3,255.4L233.0,251.8L227.8,251.4M234.6,258.4L258.7,251.9M254.7,255.2L258.7,251.9L253.6,251.1M263.8,258.8L275.3,251.5M272.4,255.8L275.3,251.5L270.1,252.3M291.3,258.6L293.6,251.7M293.9,254.7L293.6,251.7L291.5,253.9M314.0,262.1L316.7,248.2M317.9,253.3L316.7,248.2L313.7,252.4M334.4,266.8L342.1,243.5M342.6,248.7L342.1,243.5L338.6,247.4M356.7,265.2L365.6,245.1M365.6,250.3L365.6,245.1L361.8,248.6M382.1,265.7L386.0,244.6M387.2,249.6L386.0,244.6L383.1,248.9M406.9,266.4L407.0,243.9M409.1,248.7L407.0,243.9L404.9,248.7M430.0,266.4L429.7,243.9M431.9,248.7L429.7,243.9L427.6,248.7M455.3,265.8L450.2,244.5M453.3,248.6L450.2,244.5L449.2,249.6M478.6,265.6L472.7,244.7M476.0,248.7L472.7,244.7L472.0,249.9M501.9,265.1L495.2,245.2M498.7,249.0L495.2,245.2L494.7,250.4M526.7,266.4L516.2,243.9M520.1,247.3L516.2,243.9L516.3,249.1M551.1,264.4L537.6,245.9M542.1,248.5L537.6,245.9L538.7,251.0M574.8,260.6L559.7,249.7M564.8,250.8L559.7,249.7L562.3,254.2M596.2,262.1L584.1,248.2M588.8,250.4L584.1,248.2L585.6,253.2M620.7,262.8L605.4,247.5M610.2,249.3L605.4,247.5L607.2,252.3M640.2,259.7L631.7,250.6M636.5,252.6L631.7,250.6L633.4,255.5M662.9,259.6L654.8,250.7M659.4,252.7L654.8,250.7L656.4,255.5M156.0,277.2L177.0,271.8M172.9,275.0L177.0,271.8L171.9,270.9M177.4,278.3L201.4,270.7M197.5,274.2L201.4,270.7L196.2,270.1M198.6,278.4L226.0,270.6M222.0,273.9L226.0,270.6L220.8,269.9M220.3,278.4L250.1,270.6M246.0,273.8L250.1,270.6L245.0,269.7M248.0,276.7L268.2,272.3M264.0,275.4L268.2,272.3L263.1,271.2M276.2,280.4L285.8,268.6M284.4,273.6L285.8,268.6L281.2,271.0M300.0,282.1L307.8,266.9M307.5,272.1L307.8,266.9L303.7,270.2M323.5,283.7L330.1,265.3M330.5,270.5L330.1,265.3L326.5,269.0M345.9,285.1L353.5,263.9M353.9,269.1L353.5,263.9L349.9,267.7M370.0,284.5L375.2,264.5M376.0,269.6L375.2,264.5L372.0,268.6M394.4,285.0L396.6,264.0M398.2,269.0L396.6,264.0L394.0,268.5M418.0,285.4L418.8,263.6M420.7,268.4L418.8,263.6L416.5,268.3M441.7,285.1L440.9,263.9M443.2,268.6L440.9,263.9L439.0,268.7M465.8,285.2L462.6,263.8M465.4,268.2L462.6,263.8L461.2,268.8M490.4,285.6L483.8,263.4M487.2,267.3L483.8,263.4L483.1,268.5M513.8,284.6L506.2,264.4M509.8,268.1L506.2,264.4L505.9,269.6M538.3,281.6L527.5,267.4M532.1,269.9L527.5,267.4L528.7,272.4M563.6,278.5L548.0,270.5M553.1,270.8L548.0,270.5L551.2,274.6M587.2,277.2L570.2,271.8M575.4,271.2L570.2,271.8L574.1,275.3M608.3,275.9L594.9,273.1M600.0,272.0L594.9,273.1L599.1,276.1M631.7,275.8L617.3,273.2M622.4,272.0L617.3,273.2L621.6,276.1M653.3,276.6L641.5,272.4M646.7,272.0L641.5,272.4L645.2,276.0M675.0,275.1L665.6,273.9M669.4,272.8L665.6,273.9L669.0,276.0M147.2,295.6L162.9,292.1M158.8,295.2L162.9,292.1L157.8,291.1M167.1,297.0L188.8,290.7M184.8,294.1L188.8,290.7L183.7,290.0M188.9,297.2L212.8,290.5M208.8,293.8L212.8,290.5L207.6,289.8M211.1,297.2L236.4,290.5M232.4,293.8L236.4,290.5L231.3,289.7M233.5,299.1L259.8,288.6M256.2,292.3L259.8,288.6L254.6,288.4M260.8,299.2L278.3,288.5M275.4,292.8L278.3,288.5L273.2,289.1M286.6,300.6L298.3,287.1M296.8,292.1L298.3,287.1L293.6,289.3M311.4,301.8L319.3,285.9M319.1,291.1L319.3,285.9L315.3,289.2M334.4,304.3L342.1,283.4M342.4,288.6L342.1,283.4L338.5,287.2M358.5,303.9L363.8,283.8M364.6,289.0L363.8,283.8L360.5,287.9M382.7,303.5L385.4,284.2M386.8,289.2L385.4,284.2L382.6,288.7M406.1,304.3L407.8,283.4M409.5,288.3L407.8,283.4L405.3,287.9M429.6,304.4L430.1,283.3M432.1,288.1L430.1,283.3L427.9,288.0M452.2,303.8L453.3,283.9M455.2,288.8L453.3,283.9L450.9,288.6M478.5,306.2L472.8,281.5M475.9,285.7L472.8,281.5L471.8,286.6M502.4,305.0L494.7,282.7M498.2,286.5L494.7,282.7L494.2,287.9M524.6,303.3L518.3,284.4M521.8,288.2L518.3,284.4L517.8,289.6M550.2,298.8L538.5,288.9M543.5,290.3L538.5,288.9L540.7,293.6M573.3,297.8L561.2,289.9M566.3,290.7L561.2,289.9L564.0,294.3M596.7,299.0L583.6,288.7M588.6,290.0L583.6,288.7L586.0,293.3M619.5,299.1L606.6,288.6M611.6,290.0L606.6,288.6L609.0,293.3M641.3,297.8L630.6,289.9M635.7,291.0L630.6,289.9L633.2,294.4M663.8,296.3L653.9,291.4M658.5,291.6L653.9,291.4L656.9,295.0M159.8,315.8L173.2,310.6M169.5,314.3L173.2,310.6L168.0,310.4M178.8,316.5L200.0,309.9M196.1,313.3L200.0,309.9L194.9,309.3M201.2,317.3L223.4,309.1M219.7,312.7L223.4,309.1L218.2,308.7M224.6,318.3L245.8,308.1M242.4,312.0L245.8,308.1L240.6,308.2M248.2,319.7L268.0,306.7M265.2,311.0L268.0,306.7L262.9,307.5M273.7,319.8L288.3,306.6M286.2,311.3L288.3,306.6L283.4,308.2M299.3,321.8L308.5,304.6M308.1,309.8L308.5,304.6L304.4,307.8M324.7,321.7L328.9,304.7M329.8,309.8L328.9,304.7L325.7,308.8M346.7,321.9L352.7,304.5M353.1,309.7L352.7,304.5L349.1,308.3M370.7,324.8L374.5,301.6M375.8,306.6L374.5,301.6L371.7,305.9M394.7,322.0L396.3,304.4M398.0,309.3L396.3,304.4L393.7,308.9M418.4,324.3L418.4,302.1M420.5,306.8L418.4,302.1L416.3,306.8M441.3,323.2L441.3,303.2M443.4,307.9L441.3,303.2L439.2,307.9M465.6,322.2L462.8,304.2M465.6,308.6L462.8,304.2L461.4,309.2M489.8,325.1L484.4,301.3M487.5,305.5L484.4,301.3L483.4,306.4M513.0,322.2L507.0,304.2M510.5,308.0L507.0,304.2L506.5,309.4M536.6,319.6L529.2,306.8M533.4,309.9L529.2,306.8L529.8,311.9M560.6,318.1L551.0,308.3M555.8,310.2L551.0,308.3L552.8,313.1M584.6,318.1L572.8,308.3M577.8,309.7L572.8,308.3L575.1,312.9M607.5,318.9L595.7,307.5M600.6,309.3L595.7,307.5L597.7,312.3M628.0,315.4L621.0,311.0M624.4,311.5L621.0,311.0L622.9,313.9M651.4,316.6L643.4,309.8M647.6,311.0L643.4,309.8L645.3,313.8M674.9,318.3L665.7,308.1M670.5,310.2L665.7,308.1L667.3,313.1M149.2,334.3L160.9,330.8M157.0,334.1L160.9,330.8L155.8,330.1M168.9,336.3L187.0,328.8M183.4,332.6L187.0,328.8L181.8,328.7M191.5,337.1L210.2,328.0M206.9,331.9L210.2,328.0L205.0,328.1M213.4,337.8L234.1,327.3M230.8,331.4L234.1,327.3L228.9,327.6M237.4,337.9L255.9,327.2M252.9,331.4L255.9,327.2L250.8,327.8M261.5,337.9L277.6,327.2M274.8,331.6L277.6,327.2L272.4,328.1M285.1,339.5L299.8,325.6M297.8,330.4L299.8,325.6L294.9,327.3M311.9,341.0L318.8,324.1M319.0,329.3L318.8,324.1L315.1,327.7M335.0,338.7L341.5,326.4M341.2,331.6L341.5,326.4L337.4,329.6M359.1,341.1L363.2,324.0M364.1,329.1L363.2,324.0L360.0,328.1M382.7,341.8L385.4,323.3M386.8,328.3L385.4,323.3L382.6,327.7M406.4,342.6L407.5,322.5M409.4,327.3L407.5,322.5L405.1,327.1M429.6,343.2L430.1,321.9M432.1,326.7L430.1,321.9L427.9,326.6M452.8,343.7L452.7,321.4M454.8,326.1L452.7,321.4L450.6,326.2M479.1,343.2L472.2,321.9M475.6,325.8L472.2,321.9L471.6,327.1M503.2,341.7L493.9,323.4M497.9,326.7L493.9,323.4L494.2,328.6M525.8,340.5L517.1,324.6M521.2,327.7L517.1,324.6L517.5,329.8M550.1,342.1L538.6,323.0M542.8,325.9L538.6,323.0L539.2,328.1M574.8,340.8L559.7,324.3M564.5,326.4L559.7,324.3L561.4,329.2M594.7,334.6L585.6,330.5M589.8,330.5L585.6,330.5L588.4,333.6M617.4,335.3L608.7,329.8M613.0,330.4L608.7,329.8L611.1,333.4M639.9,337.4L632.0,327.7M636.6,330.1L632.0,327.7L633.4,332.8M662.8,335.3L654.9,329.8M658.9,330.6L654.9,329.8L657.0,333.3M160.6,353.9L172.4,349.9M168.6,353.4L172.4,349.9L167.2,349.4M183.2,354.7L195.6,349.1M192.1,353.0L195.6,349.1L190.4,349.1M203.8,357.1L220.8,346.7M217.8,351.0L220.8,346.7L215.6,347.4M230.1,354.9L240.3,348.9M237.4,353.0L240.3,348.9L235.4,349.5M250.1,356.7L266.1,347.1M263.1,351.4L266.1,347.1L261.0,347.7M271.8,358.5L290.2,345.3M287.6,349.8L290.2,345.3L285.1,346.3M296.5,359.3L311.3,344.5M309.4,349.4L311.3,344.5L306.5,346.4M322.8,357.9L330.8,345.9M329.9,351.0L330.8,345.9L326.4,348.7M345.4,360.0L354.0,343.8M353.6,349.0L354.0,343.8L349.9,347.0M370.7,360.6L374.5,343.2M375.6,348.3L374.5,343.2L371.4,347.4M394.8,361.2L396.2,342.6M398.0,347.5L396.2,342.6L393.7,347.2M418.2,362.0L418.6,341.8M420.6,346.6L418.6,341.8L416.4,346.6M441.7,361.9L440.9,341.9M443.2,346.6L440.9,341.9L439.0,346.8M465.3,361.9L463.1,341.9M465.7,346.4L463.1,341.9L461.5,346.9M490.5,362.3L483.7,341.5M487.2,345.4L483.7,341.5L483.2,346.7M514.9,358.6L505.1,345.2M509.6,347.7L505.1,345.2L506.2,350.2M538.8,359.4L527.0,344.4M531.6,346.8L527.0,344.4L528.2,349.4M559.9,355.8L551.7,348.0M556.2,349.6L551.7,348.0L553.5,352.4M585.9,358.4L571.5,345.4M576.4,347.0L571.5,345.4L573.6,350.1M607.6,354.7L595.6,349.1M600.8,349.2L595.6,349.1L599.0,353.0M628.6,354.0L620.4,349.8M624.2,350.0L620.4,349.8L622.8,352.8M652.0,354.0L642.8,349.8M647.0,349.8L642.8,349.8L645.6,353.0M674.5,353.3L666.1,350.5M669.8,350.1L666.1,350.5L668.8,353.0M149.6,374.0L160.5,368.5M157.3,372.5L160.5,368.5L155.4,368.7M172.6,374.5L183.3,368.0M180.3,372.3L183.3,368.0L178.1,368.7M194.3,375.2L207.4,367.3M204.5,371.6L207.4,367.3L202.3,367.9M211.8,378.8L235.7,363.7M232.9,368.0L235.7,363.7L230.6,364.4M237.3,379.1L256.0,363.4M253.7,368.1L256.0,363.4L251.0,364.8M260.9,379.2L278.2,363.3M276.1,368.1L278.2,363.3L273.3,364.9M283.8,379.3L301.1,363.2M299.0,368.0L301.1,363.2L296.2,364.9M306.7,380.5L324.0,362.0M322.3,366.9L324.0,362.0L319.2,364.0M329.1,381.1L347.4,361.4M345.7,366.4L347.4,361.4L342.6,363.5M356.4,380.7L365.9,361.8M365.6,367.0L365.9,361.8L361.8,365.1M382.4,380.4L385.7,362.1M386.9,367.2L385.7,362.1L382.8,366.4M406.2,380.6L407.7,361.9M409.4,366.8L407.7,361.9L405.2,366.5M429.7,381.1L430.0,361.4M432.0,366.2L430.0,361.4L427.8,366.1M452.8,381.2L452.7,361.3M454.8,366.0L452.7,361.3L450.6,366.1M476.2,381.7L475.1,360.8M477.4,365.4L475.1,360.8L473.2,365.6M501.3,378.6L495.8,363.9M499.4,367.6L495.8,363.9L495.5,369.1M526.7,378.2L516.2,364.3M520.7,366.8L516.2,364.3L517.4,369.4M550.0,376.0L538.7,366.5M543.7,367.9L538.7,366.5L541.0,371.2M574.3,375.2L560.2,367.3M565.4,367.8L560.2,367.3L563.3,371.4M596.8,374.7L583.5,367.8M588.7,368.1L583.5,367.8L586.8,371.9M620.2,374.8L605.9,367.7M611.1,367.9L605.9,367.7L609.3,371.7M640.7,373.3L631.2,369.2M635.6,369.2L631.2,369.2L634.1,372.4M662.9,373.5L654.8,369.0M658.7,369.4L654.8,369.0L657.2,372.1M161.3,394.2L171.7,387.0M169.0,391.5L171.7,387.0L166.6,388.0M185.3,394.0L193.5,387.2M191.5,391.2L193.5,387.2L189.2,388.4M206.2,394.7L218.4,386.5M215.6,390.9L218.4,386.5L213.3,387.4M226.6,396.5L243.8,384.7M241.1,389.1L243.8,384.7L238.7,385.7M249.4,398.5L266.8,382.7M264.7,387.4L266.8,382.7L261.8,384.3M271.8,399.2L290.2,382.0M288.2,386.8L290.2,382.0L285.3,383.7M295.4,400.4L312.4,380.8M310.9,385.7L312.4,380.8L307.7,383.0M318.2,400.5L335.4,380.7M333.9,385.7L335.4,380.7L330.7,382.9M343.6,400.6L355.8,380.6M355.1,385.8L355.8,380.6L351.5,383.6M369.9,399.9L375.3,381.3M376.0,386.4L375.3,381.3L372.0,385.2M394.1,399.9L396.9,381.3M398.3,386.3L396.9,381.3L394.1,385.7M417.7,399.9L419.1,381.3M420.9,386.2L419.1,381.3L416.7,385.8M440.9,400.7L441.7,380.5M443.6,385.3L441.7,380.5L439.4,385.1M464.7,400.9L463.7,380.3M466.0,385.0L463.7,380.3L461.8,385.2M488.5,399.8L485.7,381.4M488.5,385.8L485.7,381.4L484.3,386.4M512.8,397.9L507.2,383.3M510.9,387.0L507.2,383.3L506.9,388.5M537.2,396.6L528.6,384.6M533.1,387.2L528.6,384.6L529.6,389.7M561.1,395.3L550.5,385.9M555.5,387.5L550.5,385.9L552.7,390.6M585.1,394.7L572.3,386.5M577.5,387.3L572.3,386.5L575.2,390.8M607.6,394.0L595.6,387.2M600.8,387.7L595.6,387.2L598.7,391.4M629.3,393.7L619.7,387.5M624.4,388.3L619.7,387.5L622.3,391.5M651.9,393.2L642.9,388.0M647.3,388.5L642.9,388.0L645.5,391.5M673.4,392.9L667.2,388.3M670.3,389.0L667.2,388.3L668.8,391.1M149.5,414.1L160.6,405.8M158.1,410.4L160.6,405.8L155.6,406.9M172.0,414.6L183.9,405.3M181.4,409.9L183.9,405.3L178.8,406.6M194.3,414.0L207.4,405.9M204.5,410.2L207.4,405.9L202.3,406.6M216.5,414.0L231.0,405.9M227.9,410.1L231.0,405.9L225.8,406.4M237.5,416.5L255.8,403.4M253.2,407.9L255.8,403.4L250.7,404.4M260.9,416.7L278.2,403.2M275.7,407.8L278.2,403.2L273.1,404.5M284.5,417.9L300.4,402.0M298.5,406.9L300.4,402.0L295.5,403.9M308.0,419.2L322.7,400.7M321.4,405.7L322.7,400.7L318.1,403.1M331.9,419.8L344.6,400.1M343.8,405.2L344.6,400.1L340.2,402.9M356.6,420.5L365.7,399.4M365.8,404.6L365.7,399.4L361.9,402.9M380.3,420.4L387.8,399.5M388.2,404.6L387.8,399.5L384.2,403.2M405.0,419.9L408.9,400.0M410.0,405.1L408.9,400.0L405.9,404.3M429.2,420.5L430.5,399.4M432.3,404.3L430.5,399.4L428.1,404.0M452.5,420.5L453.0,399.4M455.0,404.2L453.0,399.4L450.8,404.1M476.4,420.4L474.9,399.5M477.4,404.1L474.9,399.5L473.1,404.4M500.5,418.5L496.6,401.4M499.7,405.5L496.6,401.4L495.6,406.5M525.3,417.6L517.6,402.3M521.6,405.6L517.6,402.3L517.8,407.5M549.0,414.6L539.7,405.3M544.6,407.2L539.7,405.3L541.6,410.1M573.3,414.6L561.2,405.3M566.2,406.5L561.2,405.3L563.7,409.9M596.0,414.6L584.3,405.3M589.3,406.6L584.3,405.3L586.7,409.9M617.8,413.6L608.3,406.3M613.2,407.5L608.3,406.3L610.7,410.7M640.5,413.1L631.4,406.8M636.0,407.6L631.4,406.8L633.8,410.8M662.8,412.6L654.9,407.3M658.8,408.0L654.9,407.3L657.0,410.7M161.7,432.8L171.3,425.8M168.8,430.1L171.3,425.8L166.4,426.8M182.8,434.0L196.0,424.6M193.3,429.1L196.0,424.6L190.9,425.6M205.0,435.2L219.6,423.4M217.2,428.0L219.6,423.4L214.6,424.7M227.3,435.9L243.1,422.7M240.8,427.4L243.1,422.7L238.1,424.1M250.8,436.6L265.4,422.0M263.6,426.9L265.4,422.0L260.6,423.9M273.6,437.2L288.4,421.4M286.7,426.3L288.4,421.4L283.6,423.4M296.6,437.9L311.2,420.7M309.7,425.7L311.2,420.7L306.5,423.0M320.3,438.8L333.3,419.8M332.3,425.0L333.3,419.8L328.8,422.6M343.6,439.9L355.8,418.7M355.3,423.9L355.8,418.7L351.6,421.7M367.5,441.0L377.7,417.6M377.8,422.8L377.7,417.6L373.9,421.1M391.1,441.0L399.9,417.6M400.2,422.8L399.9,417.6L396.3,421.3M416.4,440.4L420.4,418.2M421.6,423.3L420.4,418.2L417.5,422.5M441.3,438.4L441.3,420.2M443.4,425.0L441.3,420.2L439.2,425.0M464.8,437.7L463.6,420.9M466.0,425.5L463.6,420.9L461.8,425.8M488.3,437.8L485.9,420.8M488.6,425.2L485.9,420.8L484.5,425.8M512.0,438.5L508.0,420.1M511.1,424.3L508.0,420.1L507.0,425.2M536.0,437.2L529.8,421.4M533.5,425.0L529.8,421.4L529.6,426.5M559.4,434.9L552.2,423.7M556.5,426.5L552.2,423.7L553.0,428.8M583.1,434.1L574.3,424.5M579.1,426.6L574.3,424.5L576.0,429.5M606.6,433.5L596.6,425.1M601.6,426.6L596.6,425.1L598.9,429.8M629.1,432.6L619.9,426.0M624.6,427.0L619.9,426.0L622.3,430.1M650.8,431.6L644.0,427.0M647.4,427.6L644.0,427.0L645.8,429.9M673.9,431.0L666.7,427.6M670.0,427.7L666.7,427.6L668.9,430.1M149.5,453.4L160.6,443.9M158.4,448.6L160.6,443.9L155.6,445.4M171.9,455.2L184.0,442.1M182.3,447.0L184.0,442.1L179.2,444.2M193.6,456.4L208.1,440.9M206.4,445.8L208.1,440.9L203.3,442.9M217.1,456.4L230.4,440.9M228.9,445.8L230.4,440.9L225.7,443.1M238.7,457.1L254.6,440.2M252.9,445.1L254.6,440.2L249.8,442.2M261.6,457.2L277.5,440.1M275.8,445.0L277.5,440.1L272.7,442.2M284.6,457.2L300.3,440.1M298.7,445.0L300.3,440.1L295.6,442.2M307.5,459.0L323.2,438.3M322.0,443.3L323.2,438.3L318.6,440.8M331.6,458.0L344.9,439.3M343.9,444.4L344.9,439.3L340.4,442.0M354.8,457.4L367.5,439.9M366.4,445.0L367.5,439.9L363.0,442.5M380.8,458.5L387.3,438.8M387.8,444.0L387.3,438.8L383.8,442.6M403.0,460.8L410.9,436.5M411.4,441.7L410.9,436.5L407.4,440.4M429.5,455.7L430.2,441.6M432.1,446.4L430.2,441.6L427.9,446.2M452.9,454.3L452.6,443.0M454.7,447.3L452.6,443.0L450.8,447.4M475.7,456.6L475.6,440.7M477.8,445.5L475.6,440.7L473.5,445.5M499.2,457.4L497.9,439.9M500.3,444.5L497.9,439.9L496.1,444.8M523.4,458.1L519.5,439.2M522.5,443.4L519.5,439.2L518.4,444.3M546.8,454.7L541.9,442.6M545.7,446.3L541.9,442.6L541.7,447.8M570.5,453.4L564.0,443.9M568.1,446.4L564.0,443.9L564.9,448.7M594.7,452.7L585.6,444.6M590.5,446.1L585.6,444.6L587.7,449.3M617.7,452.6L608.4,444.7M613.3,446.1L608.4,444.7L610.6,449.3M640.5,452.3L631.4,445.0M636.1,446.3L631.4,445.0L633.7,449.4M662.8,451.3L654.9,446.0M658.8,446.7L654.9,446.0L657.0,449.4M160.5,474.4L172.5,461.6M170.8,466.6L172.5,461.6L167.7,463.7M182.3,475.6L196.5,460.4M194.8,465.3L196.5,460.4L191.7,462.5M204.3,476.6L220.3,459.4M218.6,464.3L220.3,459.4L215.5,461.4M228.3,476.8L242.1,459.2M240.8,464.3L242.1,459.2L237.5,461.6M251.3,476.9L264.9,459.1M263.7,464.1L264.9,459.1L260.3,461.6M274.2,476.8L287.8,459.2M286.6,464.3L287.8,459.2L283.2,461.7M297.7,477.5L310.1,458.5M309.3,463.6L310.1,458.5L305.7,461.3M320.7,477.8L332.9,458.2M332.2,463.4L332.9,458.2L328.6,461.1M343.2,477.2L356.2,458.8M355.2,463.9L356.2,458.8L351.7,461.4M367.5,478.0L377.7,458.0M377.4,463.2L377.7,458.0L373.6,461.3M391.8,479.4L399.2,456.6M399.7,461.8L399.2,456.6L395.7,460.5M416.2,477.8L420.6,458.2M421.6,463.3L420.6,458.2L417.5,462.4M441.2,474.3L441.4,461.7M443.4,466.4L441.4,461.7L439.2,466.4M464.3,474.8L464.1,461.2M466.3,465.9L464.1,461.2L462.1,466.0M487.4,476.3L486.8,459.7M489.1,464.4L486.8,459.7L484.9,464.5M511.5,477.6L508.5,458.4M511.3,462.8L508.5,458.4L507.1,463.4M534.7,477.0L531.1,459.0M534.1,463.2L531.1,459.0L529.9,464.1M558.1,473.7L553.5,462.3M557.2,465.9L553.5,462.3L553.3,467.5M582.0,472.7L575.4,463.3M579.5,465.8L575.4,463.3L576.3,468.0M605.3,472.0L597.9,464.0M602.1,465.8L597.9,464.0L599.4,468.3M628.5,471.9L620.5,464.1M624.9,465.7L620.5,464.1L622.2,468.4M651.5,471.2L643.3,464.8M647.6,465.9L643.3,464.8L645.4,468.6M674.2,470.6L666.4,465.4M670.3,466.1L666.4,465.4L668.5,468.7M148.7,494.0L161.4,480.7M159.6,485.6L161.4,480.7L156.6,482.7M171.9,494.1L184.0,480.6M182.4,485.6L184.0,480.6L179.3,482.8M191.7,496.5L210.0,478.2M208.1,483.0L210.0,478.2L205.1,480.1M215.2,496.6L232.3,478.1M230.6,483.0L232.3,478.1L227.5,480.2M241.8,496.6L251.5,478.1M251.2,483.3L251.5,478.1L247.4,481.3M263.1,496.6L276.0,478.1M275.0,483.2L276.0,478.1L271.6,480.8M287.7,496.0L297.2,478.7M296.8,483.8L297.2,478.7L293.1,481.8M311.3,497.8L319.4,476.9M319.7,482.1L319.4,476.9L315.7,480.5M332.4,496.2L344.1,478.5M343.2,483.6L344.1,478.5L339.7,481.3M355.2,496.7L367.1,478.0M366.3,483.1L367.1,478.0L362.8,480.9M379.3,497.6L388.8,477.1M388.7,482.3L388.8,477.1L384.9,480.5M403.3,498.9L410.6,475.8M411.2,481.0L410.6,475.8L407.2,479.7M428.8,495.7L430.9,479.0M432.4,484.0L430.9,479.0L428.2,483.5M452.7,493.6L452.8,481.1M454.9,485.9L452.8,481.1L450.6,485.9M475.7,494.3L475.6,480.4M477.7,485.1L475.6,480.4L473.5,485.2M500.0,496.0L497.1,478.7M500.0,483.1L497.1,478.7L495.8,483.8M523.4,495.3L519.5,479.4M522.7,483.5L519.5,479.4L518.6,484.5M546.4,493.4L542.3,481.3M545.8,485.1L542.3,481.3L541.8,486.5M569.9,493.2L564.6,481.5M568.5,484.9L564.6,481.5L564.6,486.7M592.8,491.4L587.5,483.3M590.9,485.5L587.5,483.3L588.1,487.3M615.8,491.3L610.3,483.4M613.8,485.5L610.3,483.4L611.1,487.4M639.9,491.3L632.0,483.4M636.4,485.1L632.0,483.4L633.7,487.8M662.5,489.8L655.2,484.9M658.8,485.5L655.2,484.9L657.2,488.0M160.9,514.2L172.1,499.2M171.0,504.3L172.1,499.2L167.6,501.7M182.1,514.9L196.7,498.5M195.2,503.4L196.7,498.5L192.0,500.6M204.2,515.7L220.4,497.7M218.8,502.7L220.4,497.7L215.6,499.9M228.2,516.0L242.2,497.4M241.0,502.5L242.2,497.4L237.6,500.0M252.6,515.9L263.6,497.5M263.0,502.7L263.6,497.5L259.3,500.5M275.3,515.6L286.7,497.8M285.9,503.0L286.7,497.8L282.4,500.7M299.3,515.9L308.5,497.5M308.3,502.7L308.5,497.5L304.5,500.8M322.2,516.2L331.4,497.2M331.2,502.4L331.4,497.2L327.4,500.6M344.9,515.4L354.5,498.0M354.1,503.1L354.5,498.0L350.4,501.1M368.0,514.8L377.2,498.6M376.7,503.8L377.2,498.6L373.0,501.7M392.5,514.7L398.5,498.7M398.8,503.9L398.5,498.7L394.9,502.4M416.0,515.0L420.8,498.4M421.5,503.5L420.8,498.4L417.4,502.4M440.4,514.0L442.2,499.4M443.7,504.4L442.2,499.4L439.5,503.9M464.2,513.8L464.2,499.6M466.3,504.4L464.2,499.6L462.1,504.4M487.8,513.9L486.4,499.5M488.9,504.0L486.4,499.5L484.7,504.5M511.5,513.7L508.5,499.7M511.6,503.9L508.5,499.7L507.4,504.8M534.7,513.6L531.1,499.8M534.3,503.9L531.1,499.8L530.2,504.9M557.9,512.6L553.7,500.8M557.3,504.6L553.7,500.8L553.3,506.0M581.1,511.8L576.3,501.6M579.9,504.7L576.3,501.6L576.4,506.3M604.2,510.8L599.0,502.6M602.4,504.9L599.0,502.6L599.6,506.6M627.6,510.6L621.4,502.8M625.1,504.7L621.4,502.8L622.4,506.9M650.9,510.0L643.9,503.4M647.7,504.7L643.9,503.4L645.5,507.1M673.6,509.4L667.0,504.0M670.5,505.0L667.0,504.0L668.6,507.2M151.7,533.8L158.4,518.3M158.4,523.5L158.4,518.3L154.6,521.9M174.0,534.2L181.9,517.9M181.7,523.1L181.9,517.9L177.9,521.2M195.7,535.1L206.0,517.0M205.5,522.2L206.0,517.0L201.8,520.1M217.9,535.3L229.6,516.8M228.9,521.9L229.6,516.8L225.3,519.6M240.8,535.1L252.5,517.0M251.7,522.1L252.5,517.0L248.1,519.8M263.3,534.4L275.8,517.7M274.7,522.7L275.8,517.7L271.3,520.2M287.3,533.7L297.6,518.4M296.7,523.5L297.6,518.4L293.2,521.1M311.2,534.2L319.5,517.9M319.3,523.1L319.5,517.9L315.5,521.1M334.4,534.0L342.1,518.1M341.9,523.3L342.1,518.1L338.1,521.5M357.6,533.4L364.7,518.7M364.5,523.9L364.7,518.7L360.7,522.1M381.2,532.9L386.9,519.2M387.0,524.4L386.9,519.2L383.1,522.7M404.5,533.3L409.4,518.8M409.9,524.0L409.4,518.8L405.9,522.6M428.2,533.3L431.5,518.8M432.5,523.9L431.5,518.8L428.4,522.9M452.2,533.3L453.3,518.8M455.0,523.7L453.3,518.8L450.8,523.3M475.9,533.1L475.4,519.0M477.7,523.7L475.4,519.0L473.4,523.8M499.2,532.7L497.9,519.4M500.5,524.0L497.9,519.4L496.3,524.4M522.4,532.5L520.5,519.6M523.3,524.0L520.5,519.6L519.1,524.6M545.7,531.4L543.0,520.7M545.9,524.4L543.0,520.7L542.2,525.3M568.8,530.2L565.7,521.9M568.3,524.5L565.7,521.9L565.5,525.6M592.1,529.9L588.2,522.2M591.0,524.5L588.2,522.2L588.4,525.8M615.4,529.4L610.7,522.7M613.7,524.4L610.7,522.7L611.3,526.1M638.7,529.4L633.2,522.7M636.5,524.3L633.2,522.7L634.2,526.2M661.4,528.8L656.3,523.3M659.2,524.6L656.3,523.3L657.3,526.3M164.4,552.7L168.6,538.1M169.3,543.2L168.6,538.1L165.2,542.1M184.8,554.6L194.0,536.2M193.7,541.4L194.0,536.2L190.0,539.5M207.0,554.7L217.6,536.1M217.1,541.3L217.6,536.1L213.4,539.2M230.0,554.2L240.4,536.6M239.8,541.8L240.4,536.6L236.2,539.6M252.1,554.5L264.1,536.3M263.2,541.5L264.1,536.3L259.7,539.1M273.9,553.3L288.1,537.5M286.5,542.4L288.1,537.5L283.3,539.6M299.8,552.2L308.0,538.6M307.4,543.7L308.0,538.6L303.7,541.6M323.5,553.9L330.1,536.9M330.4,542.1L330.1,536.9L326.4,540.6M346.8,552.5L352.6,538.3M352.8,543.5L352.6,538.3L348.9,541.9M369.3,552.0L375.9,538.8M375.7,544.0L375.9,538.8L371.9,542.1M392.8,552.7L398.2,538.1M398.5,543.3L398.2,538.1L394.5,541.9M415.8,552.7L421.0,538.1M421.4,543.3L421.0,538.1L417.4,541.9M440.6,552.7L442.0,538.1M443.7,543.1L442.0,538.1L439.4,542.7M464.2,552.7L464.2,538.1M466.3,542.9L464.2,538.1L462.1,542.9M487.4,552.6L486.8,538.2M489.1,542.8L486.8,538.2L484.9,543.0M510.7,551.7L509.3,539.1M511.9,543.6L509.3,539.1L507.7,544.1M534.2,552.0L531.6,538.8M534.6,543.1L531.6,538.8L530.4,543.9M557.1,548.9L554.5,541.9M556.7,544.1L554.5,541.9L554.3,545.0M580.0,549.9L577.4,540.9M579.9,543.9L577.4,540.9L576.8,544.8M603.6,548.7L599.6,542.1M602.3,543.9L599.6,542.1L600.0,545.3M627.1,548.7L621.9,542.1M625.0,543.7L621.9,542.1L622.8,545.5M650.0,548.7L644.8,542.1M647.9,543.7L644.8,542.1L645.7,545.5M672.3,547.4L668.3,543.4M670.5,544.2L668.3,543.4L669.1,545.6M153.0,572.2L157.1,557.3M157.9,562.5L157.1,557.3L153.8,561.4M175.5,572.6L180.4,556.9M181.0,562.0L180.4,556.9L177.0,560.8M197.4,573.6L204.3,555.9M204.5,561.1L204.3,555.9L200.6,559.6M219.9,573.0L227.6,556.5M227.5,561.7L227.6,556.5L223.7,559.9M242.0,572.4L251.3,557.1M250.6,562.2L251.3,557.1L247.0,560.0M264.2,573.0L274.9,556.5M274.1,561.7L274.9,556.5L270.5,559.4M287.8,572.3L297.1,557.2M296.4,562.3L297.1,557.2L292.8,560.1M312.3,571.7L318.4,557.8M318.4,563.0L318.4,557.8L314.5,561.3M335.7,571.6L340.8,557.9M341.1,563.1L340.8,557.9L337.2,561.6M358.8,571.3L363.5,558.2M363.9,563.4L363.5,558.2L359.9,562.0M381.8,571.6L386.3,557.9M386.8,563.0L386.3,557.9L382.8,561.7M404.6,572.4L409.3,557.1M409.9,562.3L409.3,557.1L405.9,561.1M428.2,571.5L431.5,558.0M432.4,563.1L431.5,558.0L428.3,562.1M452.2,570.9L453.3,558.6M455.0,563.5L453.3,558.6L450.8,563.2M475.7,571.2L475.6,558.3M477.7,563.0L475.6,558.3L473.5,563.1M499.0,571.4L498.1,558.1M500.5,562.7L498.1,558.1L496.3,563.0M522.3,570.9L520.6,558.6M523.3,563.0L520.6,558.6L519.2,563.6M545.4,570.0L543.3,559.5M545.9,563.2L543.3,559.5L542.3,563.9M568.3,568.4L566.2,561.1M568.2,563.5L566.2,561.1L565.8,564.3M591.5,567.9L588.8,561.6M590.9,563.6L588.8,561.6L588.8,564.5M614.9,567.4L611.2,562.1M613.5,563.5L611.2,562.1L611.7,564.8M638.1,567.4L633.8,562.1M636.4,563.4L633.8,562.1L634.5,564.9M660.9,567.1L656.8,562.4M659.2,563.5L656.8,562.4L657.6,564.9M165.1,590.8L167.9,577.4M169.0,582.5L167.9,577.4L164.8,581.6M188.0,592.1L190.8,576.1M192.1,581.2L190.8,576.1L187.9,580.5M210.3,592.6L214.3,575.6M215.3,580.7L214.3,575.6L211.2,579.7M231.9,590.8L238.5,577.4M238.3,582.6L238.5,577.4L234.5,580.7M254.7,590.8L261.5,577.4M261.2,582.6L261.5,577.4L257.5,580.7M276.4,593.2L285.6,575.0M285.3,580.2L285.6,575.0L281.6,578.3M301.2,590.8L306.6,577.4M306.8,582.6L306.6,577.4L302.9,581.0M324.8,589.5L328.8,578.7M329.1,583.5L328.8,578.7L325.4,582.1M347.8,589.9L351.6,578.3M352.1,583.4L351.6,578.3L348.2,582.1M371.2,589.5L374.0,578.7M374.8,583.3L374.0,578.7L371.1,582.4M393.5,592.6L397.5,575.6M398.5,580.7L397.5,575.6L394.3,579.8M416.4,591.4L420.4,576.8M421.2,582.0L420.4,576.8L417.1,580.9M440.0,589.5L442.6,578.7M443.4,583.3L442.6,578.7L439.8,582.4M464.2,588.8L464.2,579.4M465.8,583.0L464.2,579.4L462.6,583.0M487.1,590.7L487.1,577.5M489.2,582.3L487.1,577.5L485.0,582.3M510.6,590.0L509.4,578.2M511.9,582.5L509.4,578.2L507.8,582.9M533.4,588.4L532.4,579.8M534.3,582.9L532.4,579.8L531.3,583.3M556.4,587.8L555.2,580.4M556.9,583.0L555.2,580.4L554.4,583.4M579.4,586.8L578.0,581.4M579.4,583.2L578.0,581.4L577.6,583.7M602.9,586.1L600.3,582.1M602.0,583.2L600.3,582.1L600.6,584.1M625.9,586.1L623.1,582.1M624.9,583.2L623.1,582.1L623.5,584.1M649.4,586.1L645.4,582.1M647.6,583.0L645.4,582.1L646.3,584.3M671.9,586.1L668.7,582.1M670.6,583.1L668.7,582.1L669.2,584.2M153.6,610.5L156.5,596.4M157.6,601.5L156.5,596.4L153.5,600.6M176.4,611.0L179.5,595.9M180.6,601.0L179.5,595.9L176.5,600.1M199.0,611.3L202.7,595.6M203.7,600.7L202.7,595.6L199.5,599.7M221.2,611.0L226.3,595.9M226.8,601.1L226.3,595.9L222.8,599.7M243.3,610.7L250.0,596.2M249.9,601.4L250.0,596.2L246.1,599.7M265.8,611.1L273.3,595.8M273.1,601.0L273.3,595.8L269.3,599.2M289.0,610.9L295.9,596.0M295.8,601.2L295.9,596.0L292.0,599.4M312.7,610.0L318.0,596.9M318.2,602.1L318.0,596.9L314.3,600.5M336.1,609.3L340.4,597.6M340.7,602.8L340.4,597.6L336.8,601.4M359.5,609.5L362.8,597.4M363.6,602.5L362.8,597.4L359.5,601.4M382.3,610.6L385.8,596.3M386.7,601.5L385.8,596.3L382.6,600.4M405.1,610.8L408.8,596.1M409.7,601.2L408.8,596.1L405.6,600.2M428.3,609.9L431.4,597.0M432.3,602.1L431.4,597.0L428.2,601.2M452.0,608.9L453.5,598.0M454.8,602.4L453.5,598.0L451.0,601.9M475.6,609.1L475.7,597.8M477.6,602.2L475.7,597.8L473.7,602.1M498.9,609.2L498.2,597.7M500.4,602.0L498.2,597.7L496.5,602.2M521.9,608.5L521.0,598.4M523.1,602.1L521.0,598.4L519.6,602.4M544.9,607.8L543.8,599.1M545.7,602.3L543.8,599.1L542.8,602.6M568.0,606.5L566.5,600.4M568.1,602.5L566.5,600.4L566.0,603.0M591.2,605.8L589.1,601.1M590.7,602.5L589.1,601.1L589.1,603.3M614.4,605.5L611.7,601.4M613.5,602.5L611.7,601.4L612.0,603.4M637.6,605.4L634.3,601.5M636.3,602.4L634.3,601.5L634.9,603.5M660.6,605.5L657.1,601.4M659.1,602.4L657.1,601.4L657.7,603.6" fill="none" stroke="#000" stroke-width="0.7" stroke-opacity="0.95"/>
</g>
<path d="M188.5,76.5v14M291,76.5v14M393.75,76.5v14M496.25,76.5v14M599,76.5v14M165,604.5v-14M277.5,604.5v-14M391,604.5v-14M504,604.5v-14M617.5,604.5v-14M155.5,105h14M683.5,105h-14M155.5,235.8h14M683.5,235.8h-14M155.5,366.6h14M683.5,366.6h-14M155.5,497.4h14M683.5,497.4h-14" stroke="#000" stroke-width="2" stroke-opacity="0.78" fill="none"/>
<rect x="155.5" y="76.5" width="528.0" height="528.0" fill="none" stroke="#000" stroke-width="1.3"/>
<rect x="656.9" y="76.5" width="28.4" height="38.7" fill="#fff" stroke="#222" stroke-width="0.8"/>
<path d="M660,101.5H682M677.6,99.4L682.2,101.5L677.6,103.6" fill="none" stroke="#000" stroke-width="0.6"/>
<rect x="163.0" y="629" width="51.2" height="13.8" fill="#0000ff"/>
<rect x="214.2" y="629" width="51.2" height="13.8" fill="#00a8ff"/>
<rect x="265.4" y="629" width="51.2" height="13.8" fill="#00e6b4"/>
<rect x="316.6" y="629" width="51.2" height="13.8" fill="#0aaf14"/>
<rect x="367.8" y="629" width="51.2" height="13.8" fill="#aae614"/>
<rect x="419.0" y="629" width="51.2" height="13.8" fill="#ffe600"/>
<rect x="470.2" y="629" width="51.2" height="13.8" fill="#ffa50a"/>
<rect x="521.4" y="629" width="51.2" height="13.8" fill="#ff3c00"/>
<rect x="572.6" y="629" width="51.2" height="13.8" fill="#c80032"/>
<rect x="623.8" y="629" width="51.2" height="13.8" fill="#5a0096"/>
<path d="M214.2,629v13.8M265.4,629v13.8M316.6,629v13.8M367.8,629v13.8M419.0,629v13.8M470.2,629v13.8M521.4,629v13.8M572.6,629v13.8M623.8,629v13.8" stroke="#000" stroke-width="0.7"/>
<rect x="163" y="629" width="512" height="13.8" fill="none" stroke="#000" stroke-width="0.8"/>
</svg>
<svg width="800" height="800" viewBox="0 0 800 800" style="position:absolute;left:0;top:0;font-family:'Liberation Sans',sans-serif" fill="#000"><text x="308" y="27" font-size="14.4" text-anchor="start" font-weight="bold">2023/3/11/14UTC (8LT), Saturday</text>
<text x="308" y="42.8" font-size="14.3" text-anchor="start" font-weight="bold">FV3m0b0l0_GFS025</text>
<text x="154" y="63" font-size="24" text-anchor="start">2m specific humidity</text>
<text x="684.5" y="63.2" font-size="23.3" text-anchor="end">g kg-1</text>
<text x="671.3" y="91" font-size="14.4" text-anchor="middle">8</text>
<text x="146.5" y="241.2" font-size="14.4" text-anchor="end">36&#176;N</text>
<text x="146.5" y="502.5" font-size="14.4" text-anchor="end">32&#176;N</text>
<text x="165" y="625.5" font-size="14.4" text-anchor="middle">102&#176;W</text>
<text x="390.5" y="625.5" font-size="14.4" text-anchor="middle">98&#176;W</text>
<text x="617" y="625.5" font-size="14.4" text-anchor="middle">94&#176;W</text>
<text x="197" y="619.5" font-size="14.4" text-anchor="start">Min= 3.75 Max= 12.79</text>
<text x="214.2" y="657.5" font-size="14.4" text-anchor="middle">4</text>
<text x="316.6" y="657.5" font-size="14.4" text-anchor="middle">6</text>
<text x="419.0" y="657.5" font-size="14.4" text-anchor="middle">8</text>
<text x="521.4" y="657.5" font-size="14.4" text-anchor="middle">10</text>
<text x="623.8" y="657.5" font-size="14.4" text-anchor="middle">12</text></svg>
</body></html>
